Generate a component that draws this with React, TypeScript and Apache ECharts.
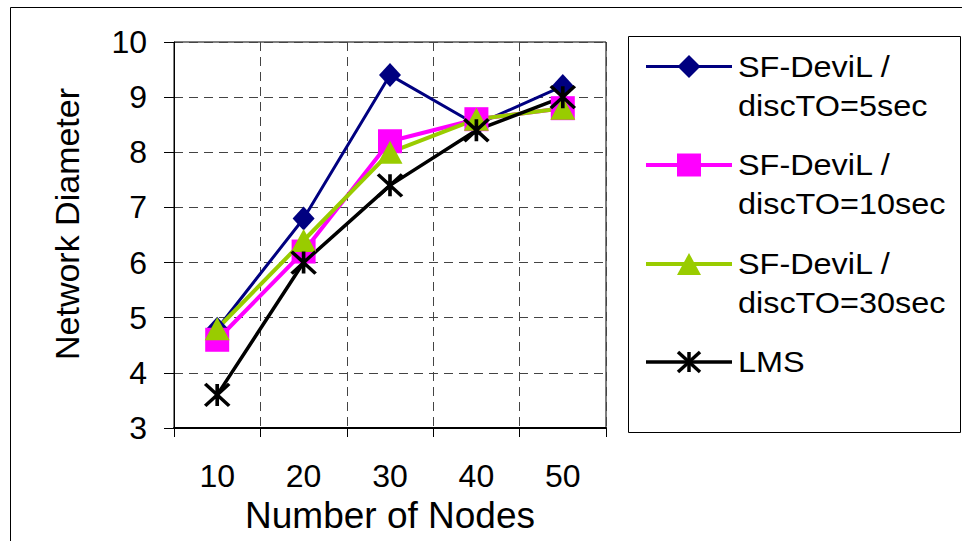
import React, { useEffect, useRef } from 'react';
import * as echarts from 'echarts';

const categories = ['10', '20', '30', '40', '50'];
const seriesNames = [
  'SF-DeviL /\ndiscTO=5sec',
  'SF-DeviL /\ndiscTO=10sec',
  'SF-DeviL /\ndiscTO=30sec',
  'LMS',
];
const sf5 = [4.8, 6.8, 9.4, 8.5, 9.2];
const sf10 = [4.6, 6.2, 8.2, 8.6, 8.8];
const sf30 = [4.8, 6.4, 8.0, 8.6, 8.8];
const lms = [3.6, 6.0, 7.4, 8.4, 9.0];
const yMin = 3;
const yMax = 10;
const yStep = 1;
const xName = 'Number of Nodes';
const yName = 'Network Diameter';

const FONT = '"Liberation Sans", Arial, sans-serif';
const NAVY = '#000080';
const MAGENTA = '#FF00FF';
const GREEN = '#99CC00';
const BLACK = '#000000';
const STAR = 'path://M0,0L22,20M22,0L0,20M11,0L11,20';

function legendItem(i: number, cy: number) {
  const x0 = 646;
  const x1 = 732;
  const mx = 689;
  const children: any[] = [];
  const colors = [NAVY, MAGENTA, GREEN, BLACK];
  const lw = [3, 4, 4, 3.5];
  const c = colors[i];
  children.push({
    type: 'line',
    shape: { x1: x0, y1: cy, x2: x1, y2: cy },
    style: { stroke: c, lineWidth: lw[i] },
  });
  if (i === 0) {
    children.push({
      type: 'polygon',
      shape: { points: [[mx, cy - 11.5], [mx + 11.5, cy], [mx, cy + 11.5], [mx - 11.5, cy]] },
      style: { fill: c },
    });
  } else if (i === 1) {
    children.push({
      type: 'rect',
      shape: { x: mx - 12, y: cy - 11.5, width: 24, height: 23 },
      style: { fill: c },
    });
  } else if (i === 2) {
    children.push({
      type: 'polygon',
      shape: { points: [[mx, cy - 11], [mx + 12, cy + 11], [mx - 12, cy + 11]] },
      style: { fill: c },
    });
  } else {
    children.push({
      type: 'line',
      shape: { x1: mx - 11, y1: cy - 10, x2: mx + 11, y2: cy + 10 },
      style: { stroke: c, lineWidth: 3.5 },
    });
    children.push({
      type: 'line',
      shape: { x1: mx + 11, y1: cy - 10, x2: mx - 11, y2: cy + 10 },
      style: { stroke: c, lineWidth: 3.5 },
    });
    children.push({
      type: 'line',
      shape: { x1: mx, y1: cy - 10, x2: mx, y2: cy + 10 },
      style: { stroke: c, lineWidth: 3.5 },
    });
  }
  children.push({
    type: 'text',
    x: 738,
    y: cy - 19.5,
    scaleX: 1.08,
    style: {
      text: seriesNames[i],
      font: `30px ${FONT}`,
      fill: '#000',
      align: 'left',
      verticalAlign: 'top',
      lineHeight: 39,
    },
  });
  return children;
}

export default function App() {
  const ref = useRef<HTMLDivElement>(null);
  useEffect(() => {
    if (!ref.current) return;
    const chart = echarts.init(ref.current, undefined, { renderer: 'svg' });
    const legendCys = [66.5, 165, 264, 362];
    const legendChildren: any[] = [
      {
        type: 'rect',
        shape: { x: 628.5, y: 36.5, width: 332, height: 396 },
        style: { fill: '#fff', stroke: '#000', lineWidth: 1 },
      },
    ];
    legendCys.forEach((cy, i) => legendChildren.push(...legendItem(i, cy)));

    const mkSeries = (
      name: string,
      data: number[],
      color: string,
      width: number,
      symbol: string,
      size: any,
      extra: any = {}
    ) => ({
      name,
      type: 'line',
      data,
      symbol,
      symbolSize: size,
      lineStyle: { color, width },
      itemStyle: { color, ...extra },
      emphasis: { disabled: true },
    });

    chart.setOption({
      animation: false,
      backgroundColor: '#fff',
      textStyle: { fontFamily: FONT },
      grid: {
        left: 174,
        top: 42,
        right: 962 - 606,
        bottom: 541 - 428,
        show: true,
        borderColor: '#000',
        borderWidth: 1,
        backgroundColor: '#fff',
      },
      xAxis: {
        type: 'category',
        data: categories,
        boundaryGap: true,
        name: xName,
        nameLocation: 'middle',
        nameGap: 66,
        nameTextStyle: { fontSize: 37, color: '#000', fontFamily: FONT, verticalAlign: 'top' },
        axisLine: { lineStyle: { color: '#000', width: 2 } },
        axisTick: { show: true, length: 9, interval: 0, lineStyle: { color: '#000', width: 1 } },
        axisLabel: { fontSize: 32, color: '#000', margin: 32, fontFamily: FONT },
        splitLine: { show: true, interval: 0, lineStyle: { color: '#444', type: [9, 6], width: 1 } },
      },
      yAxis: {
        type: 'value',
        min: yMin,
        max: yMax,
        interval: yStep,
        axisLine: { show: true, lineStyle: { color: '#000', width: 1 } },
        axisTick: { show: true, length: 10, lineStyle: { color: '#000', width: 1 } },
        axisLabel: { fontSize: 32, color: '#000', margin: 27, fontFamily: FONT },
        splitLine: { show: true, lineStyle: { color: '#444', type: [9, 6], width: 1 } },
      },
      series: [
        mkSeries(seriesNames[0], sf5, NAVY, 3, 'diamond', [22, 24]),
        mkSeries(seriesNames[1], sf10, MAGENTA, 4, 'rect', [24, 24]),
        mkSeries(seriesNames[2], sf30, GREEN, 4, 'triangle', [25, 23]),
        mkSeries(seriesNames[3], lms, BLACK, 3.5, STAR, [24, 22], {
          borderColor: BLACK,
          borderWidth: 3.5,
        }),
      ],
      graphic: [
        {
          type: 'rect',
          z: -10,
          silent: true,
          shape: { x: 10.5, y: 7.5, width: 1000, height: 600 },
          style: { fill: 'none', stroke: '#000', lineWidth: 1 },
        },
        {
          type: 'text',
          x: 67,
          y: 224,
          rotation: Math.PI / 2,
          style: {
            text: yName,
            font: `34px ${FONT}`,
            fill: '#000',
            align: 'center',
            verticalAlign: 'middle',
          },
        },
        { type: 'group', children: legendChildren },
      ],
    });
    return () => chart.dispose();
  }, []);
  return (
    <div
      ref={ref}
      style={{ position: 'fixed', left: 0, top: 0, width: 962, height: 541, background: '#fff' }}
    />
  );
}
